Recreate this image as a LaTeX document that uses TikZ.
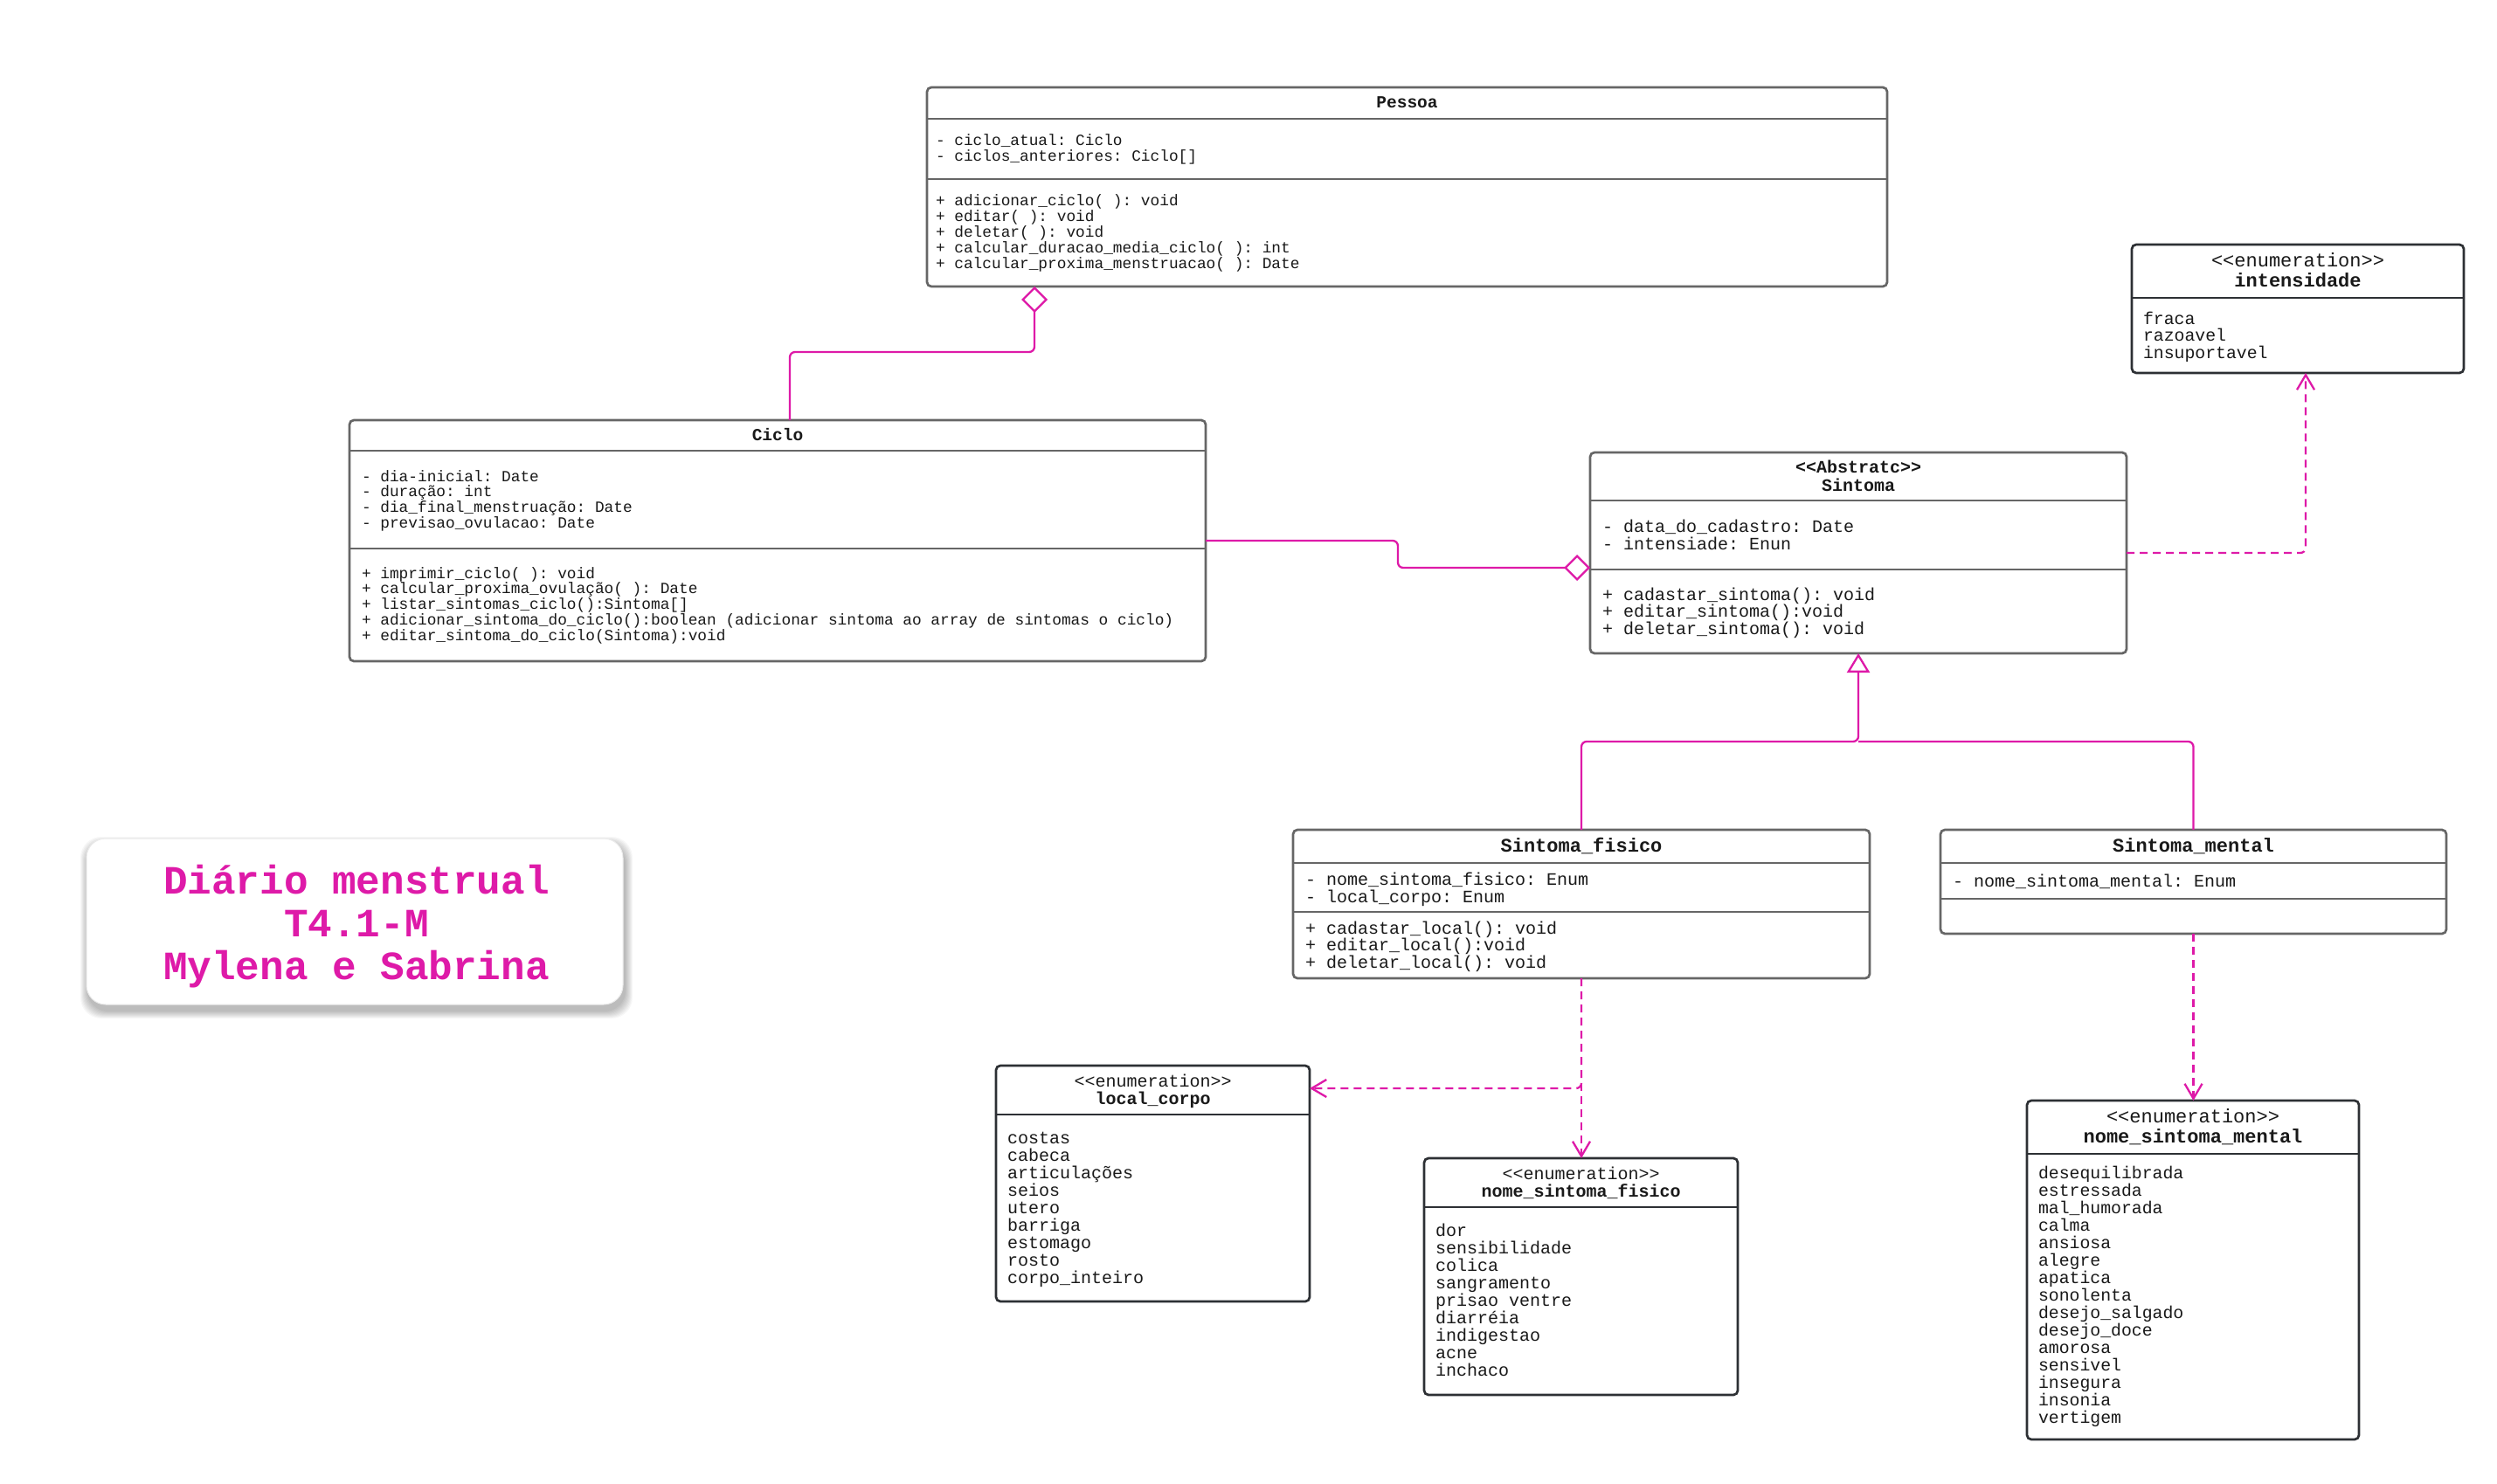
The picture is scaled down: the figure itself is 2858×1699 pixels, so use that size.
\documentclass[tikz,border=0pt]{standalone}
\usepackage{fontspec}
\setmonofont{Liberation Mono}
\usetikzlibrary{arrows.meta,calc}
\definecolor{mag}{RGB}{222,26,168}
\definecolor{boxgray}{RGB}{102,102,102}
\definecolor{enumdark}{RGB}{45,48,52}
\definecolor{txt}{RGB}{25,25,25}
\newcommand{\monofs}[1]{\ttfamily\fontsize{#1}{#1}\selectfont}
\newcommand{\umllines}[6]{%
  \foreach \lineitem [count=\i from 0] in {#6}{%
    \node[lbl, font={#5}] (#1\i) at ({#2},{#3+\i*#4}) {\lineitem};}}
\tikzset{
  umlbox/.style={draw=boxgray, line width=2.7pt, rounded corners=5pt, inner sep=0pt, outer sep=0pt, fill=white},
  enumbox/.style={umlbox, draw=enumdark},
  sepg/.style={draw=boxgray, line width=2.7pt},
  sepd/.style={draw=enumdark, line width=2.7pt},
  conn/.style={draw=mag, line width=2.3pt, rounded corners=6pt},
  depline/.style={conn, dash pattern=on 9pt off 6pt, -{Straight Barb[length=17pt,width=20pt]}},
  aggline/.style={conn, -{Diamond[open,length=30pt,width=30pt]}},
  genline/.style={conn, -{Triangle[open,length=22pt,width=26pt]}},
  lbl/.style={inner sep=0pt, outer sep=0pt, anchor=base west, text=txt},
  ttl/.style={inner sep=0pt, outer sep=0pt, anchor=base, text=txt},
}
\begin{document}
\begin{tikzpicture}[x=1pt,y=-1pt]
\useasboundingbox (0,0) rectangle (2858,1699);
\fill[white] (0,0) rectangle (2858,1699);

% ---------- title box ----------
\foreach \k in {1,...,9}{
  \fill[black, opacity=0.03, rounded corners=24pt] ({99-\k+2},{960-\k+7}) rectangle ({713+\k+2},{1150+\k+7});
}
\node[draw=black!8, line width=1pt, fill=white, rounded corners=22pt, minimum width=614pt, minimum height=190pt, anchor=north west, inner sep=0pt, outer sep=0pt] (titlebox) at (99,960) {};
\node[ttl, text=mag, font={\monofs{46}\bfseries}] (title1) at (408,1023) {Diário menstrual};
\node[ttl, text=mag, font={\monofs{46}\bfseries}] (title2) at (408,1072) {T4.1-M};
\node[ttl, text=mag, font={\monofs{46}\bfseries}] (title3) at (408,1121) {Mylena e Sabrina};

% ---------- Pessoa ----------
\node[umlbox, minimum width=1099pt, minimum height=228pt, anchor=north west] (pessoa) at (1061,100) {};
\draw[sepg] ($(pessoa.north west)+(0,36)$) -- ($(pessoa.north east)+(0,36)$);
\draw[sepg] ($(pessoa.north west)+(0,105)$) -- ($(pessoa.north east)+(0,105)$);
\node[ttl, font={\monofs{19.5}\bfseries}] (pessoaT) at (1610.5,124) {Pessoa};
\umllines{pa}{1071}{167}{18}{\monofs{17.8}}{{- ciclo\_atual: Ciclo},{- ciclos\_anteriores: Ciclo[]}}
\umllines{pm}{1071}{235}{18}{\monofs{17.8}}{{+ adicionar\_ciclo( ): void},{+ editar( ): void},{+ deletar( ): void},{+ calcular\_duracao\_media\_ciclo( ): int},{+ calcular\_proxima\_menstruacao( ): Date}}

% ---------- Ciclo ----------
\node[umlbox, minimum width=980pt, minimum height=276pt, anchor=north west] (ciclo) at (400,481) {};
\draw[sepg] ($(ciclo.north west)+(0,35)$) -- ($(ciclo.north east)+(0,35)$);
\draw[sepg] ($(ciclo.north west)+(0,147)$) -- ($(ciclo.north east)+(0,147)$);
\node[ttl, font={\monofs{19.5}\bfseries}] (cicloT) at (890,504) {Ciclo};
\umllines{ca}{414}{551}{17.9}{\monofs{17.8}}{{- dia-inicial: Date},{- duração: int},{- dia\_final\_menstruação: Date},{- previsao\_ovulacao: Date}}
\umllines{cm}{414}{662}{17.9}{\monofs{17.8}}{{+ imprimir\_ciclo( ): void},{+ calcular\_proxima\_ovulação( ): Date},{+ listar\_sintomas\_ciclo():Sintoma[]},{+ adicionar\_sintoma\_do\_ciclo():boolean (adicionar sintoma ao array de sintomas o ciclo)},{+ editar\_sintoma\_do\_ciclo(Sintoma):void}}

% ---------- Sintoma ----------
\node[umlbox, minimum width=614pt, minimum height=230pt, anchor=north west] (sint) at (1820,518) {};
\draw[sepg] ($(sint.north west)+(0,55)$) -- ($(sint.north east)+(0,55)$);
\draw[sepg] ($(sint.north west)+(0,134)$) -- ($(sint.north east)+(0,134)$);
\node[ttl, font={\monofs{20}\bfseries}] (sintT1) at (2127,541) {<<Abstratc>>};
\node[ttl, font={\monofs{20}\bfseries}] (sintT2) at (2127,562) {Sintoma};
\umllines{sa}{1834}{609}{20}{\monofs{20}}{{- data\_do\_cadastro: Date},{- intensiade: Enun}}
\umllines{sm}{1834}{687}{19.8}{\monofs{20}}{{+ cadastar\_sintoma(): void},{+ editar\_sintoma():void},{+ deletar\_sintoma(): void}}

% ---------- intensidade ----------
\node[enumbox, minimum width=380pt, minimum height=147pt, anchor=north west] (inten) at (2440,280) {};
\draw[sepd] ($(inten.north west)+(0,61)$) -- ($(inten.north east)+(0,61)$);
\node[ttl, font={\monofs{22}}] (intenT1) at (2630,305.5) {<<enumeration>>};
\node[ttl, font={\monofs{22}\bfseries}] (intenT2) at (2630,328.5) {intensidade};
\umllines{ia}{2453}{371}{19.5}{\monofs{19.8}}{fraca,razoavel,insuportavel}

% ---------- Sintoma_fisico ----------
\node[umlbox, minimum width=660pt, minimum height=170pt, anchor=north west] (sfis) at (1480,950) {};
\draw[sepg] ($(sfis.north west)+(0,38)$) -- ($(sfis.north east)+(0,38)$);
\draw[sepg] ($(sfis.north west)+(0,94)$) -- ($(sfis.north east)+(0,94)$);
\node[ttl, font={\monofs{22}\bfseries}] (sfisT) at (1810,975.5) {Sintoma\_fisico};
\umllines{fa}{1494}{1013}{20}{\monofs{20}}{{- nome\_sintoma\_fisico: Enum},{- local\_corpo: Enum}}
\umllines{fm}{1494}{1069}{19.5}{\monofs{20}}{{+ cadastar\_local(): void},{+ editar\_local():void},{+ deletar\_local(): void}}

% ---------- Sintoma_mental ----------
\node[umlbox, minimum width=579pt, minimum height=119pt, anchor=north west] (smen) at (2221,950) {};
\draw[sepg] ($(smen.north west)+(0,38)$) -- ($(smen.north east)+(0,38)$);
\draw[sepg] ($(smen.north west)+(0,79)$) -- ($(smen.north east)+(0,79)$);
\node[ttl, font={\monofs{22}\bfseries}] (smenT) at (2510.5,975.5) {Sintoma\_mental};
\umllines{ma}{2235}{1015}{20}{\monofs{20}}{{- nome\_sintoma\_mental: Enum}}

% ---------- local_corpo ----------
\node[enumbox, minimum width=359pt, minimum height=270pt, anchor=north west] (lc) at (1140,1220) {};
\draw[sepd] ($(lc.north west)+(0,56)$) -- ($(lc.north east)+(0,56)$);
\node[ttl, font={\monofs{20}}] (lcT1) at (1319.5,1244) {<<enumeration>>};
\node[ttl, font={\monofs{20}\bfseries}] (lcT2) at (1319.5,1264) {local\_corpo};
\umllines{la}{1153}{1309}{20}{\monofs{20}}{costas,cabeca,articulações,seios,utero,barriga,estomago,rosto,corpo\_inteiro}

% ---------- nome_sintoma_fisico ----------
\node[enumbox, minimum width=359pt, minimum height=271pt, anchor=north west] (nsf) at (1630,1326) {};
\draw[sepd] ($(nsf.north west)+(0,56)$) -- ($(nsf.north east)+(0,56)$);
\node[ttl, font={\monofs{20}}] (nsfT1) at (1809.5,1350) {<<enumeration>>};
\node[ttl, font={\monofs{20}\bfseries}] (nsfT2) at (1809.5,1370) {nome\_sintoma\_fisico};
\umllines{na}{1643}{1415}{20}{\monofs{20}}{dor,sensibilidade,colica,sangramento,prisao ventre,diarréia,indigestao,acne,inchaco}

% ---------- nome_sintoma_mental ----------
\node[enumbox, minimum width=380pt, minimum height=388pt, anchor=north west] (nsm) at (2320,1260) {};
\draw[sepd] ($(nsm.north west)+(0,61)$) -- ($(nsm.north east)+(0,61)$);
\node[ttl, font={\monofs{22}}] (nsmT1) at (2510,1285.5) {<<enumeration>>};
\node[ttl, font={\monofs{22}\bfseries}] (nsmT2) at (2510,1308.5) {nome\_sintoma\_mental};
\umllines{nm}{2333}{1349}{20}{\monofs{19.8}}{desequilibrada,estressada,mal\_humorada,calma,ansiosa,alegre,apatica,sonolenta,desejo\_salgado,desejo\_doce,amorosa,sensivel,insegura,insonia,vertigem}

% ---------- connectors ----------
\draw[aggline] ($(ciclo.north west)+(504,0)$) |- ($(pessoa.south west)+(123,75)$) -- ($(pessoa.south west)+(123,0)$);
\draw[aggline] ($(ciclo.north east)+(0,138)$) -- ++(220,0) |- ($(sint.north west)+(0,132)$);
\draw[depline] ($(sint.north east)+(0,115)$) -| ($(inten.south west)+(199,0)$);
\draw[genline] (sfis.north) |- ($(sint.south)+(0,101)$) -- (sint.south);
\draw[conn] (smen.north) |- ($(sint.south)+(0,101)$);
\draw[depline] (sfis.south) |- ($(lc.north east)+(0,26)$);
\draw[depline] (sfis.south) -- (sfis.south |- nsf.north);
\draw[depline] (smen.south) -- (smen.south |- nsm.north);
\end{tikzpicture}
\end{document}
